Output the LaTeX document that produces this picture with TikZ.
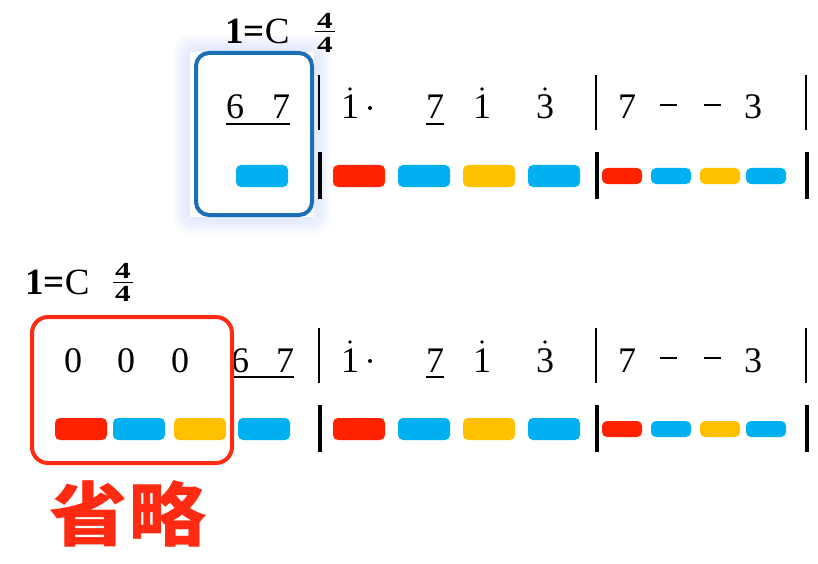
\documentclass[tikz,border=0pt]{standalone}
\usepackage{fontspec}
\setmainfont{Liberation Serif}
\newfontfamily\cjk{Noto Sans CJK SC}
\definecolor{pred}{HTML}{FF2200}
\definecolor{pblue}{HTML}{00B0F0}
\definecolor{pyellow}{HTML}{FFC000}
\definecolor{boxblue}{HTML}{1B6FB5}
\definecolor{boxred}{HTML}{FF2A12}
\definecolor{glow}{HTML}{C8D4FA}

\begin{document}
\begin{tikzpicture}[x=1pt,y=-1pt,
  num/.style={font=\fontsize{36}{36}\selectfont, inner sep=0, anchor=base},
  key/.style={font=\fontsize{37}{37}\selectfont, inner sep=0, anchor=base west},
  meter/.style={font=\bfseries\fontsize{23}{23}\selectfont, inner sep=0, xscale=1.35},
  pill/.style={fill=#1, rounded corners=5pt, minimum width=52pt, minimum height=22pt, inner sep=0},
  spill/.style={pill=#1, minimum width=40pt, minimum height=16pt},
  barline/.style={line width=1.6pt},
  thickbar/.style={line width=4.5pt},
  uline/.style={line width=1.3pt},
  ]

\useasboundingbox (0,0) rectangle (818,564);

% glow behind the first box
\foreach \g in {16,13,10,7,4}
  \fill[glow, opacity=.12, rounded corners=14pt] (190-\g,52-\g) rectangle (314+\g,217+\g);
\fill[white] (190,52) rectangle (314,217);

% key and meter
\node[key] (key1) at (225,44) {\textbf{1=}C};
\node[meter] (mtop1) at (325,21) {4};
\node[meter] (mbot1) at (325,45) {4};
\draw[line width=1pt] (315,32) -- (335,32);

\node[key] (key2) at (25,294) {\textbf{1=}C};
\node[meter] (mtop2) at (123,271) {4};
\node[meter] (mbot2) at (123,294) {4};
\draw[line width=1pt] (113,282) -- (133,282);

% the bars that both rows share
\foreach \r/\b/\p in {t/119/176, u/372/429} {
  \node[num] (\r i1) at (350,\b) {1};
  \fill ([yshift=6pt]\r i1.north) circle (1.8pt);
  \fill (370,\b-11) circle (2pt);
  \node[num] (\r s7) at (435,\b) {7};
  \draw[uline] ([yshift=-5pt]\r s7.base west) -- ([yshift=-5pt]\r s7.base east);
  \node[num] (\r i2) at (482,\b) {1};
  \fill ([yshift=6pt]\r i2.north) circle (1.8pt);
  \node[num] (\r h3) at (545,\b) {3};
  \fill ([yshift=6pt]\r h3.north) circle (1.8pt);

  \node[num] (\r l7) at (627,\b) {7};
  \draw[line width=2.4pt] (660,\b-14) -- (677,\b-14);
  \draw[line width=2.4pt] (704,\b-14) -- (721,\b-14);
  \node[num] (\r l3) at (753,\b) {3};

  \foreach \x in {319,596,806}
    \draw[barline] (\x,\b-44) -- (\x,\b+11);

  \node[pill=pred] (\r p1) at (359,\p) {};
  \node[pill=pblue] (\r p2) at (424,\p) {};
  \node[pill=pyellow] (\r p3) at (489,\p) {};
  \node[pill=pblue] (\r p4) at (554,\p) {};
  \node[spill=pred] (\r q1) at (622,\p) {};
  \node[spill=pblue] (\r q2) at (671,\p) {};
  \node[spill=pyellow] (\r q3) at (720,\p) {};
  \node[spill=pblue] (\r q4) at (766,\p) {};

  \foreach \x in {320,597,807}
    \draw[thickbar] (\x,\p-24) -- (\x,\p+23);
}

% upbeat, first line
\node[num] (t6) at (235,119) {6};
\node[num] (t7) at (281,119) {7};
\draw[uline] ([yshift=-5pt]t6.base west) -- ([yshift=-5pt]t7.base east);
\node[pill=pblue] (tp0) at (262,176) {};
\draw[boxblue, line width=4pt, rounded corners=13pt] (196,53) rectangle (312,215);

% upbeat with rests, second line
\node[num] (u01) at (73,372) {0};
\node[num] (u02) at (126,372) {0};
\node[num] (u03) at (180,372) {0};
\node[num] (u6) at (240,372) {6};
\node[num] (u7) at (285,372) {7};
\draw[uline] ([yshift=-5pt]u6.base west) -- ([yshift=-5pt]u7.base east);
\node[pill=pred] (ur1) at (81,429) {};
\node[pill=pblue] (ur2) at (139,429) {};
\node[pill=pyellow] (ur3) at (200,429) {};
\node[pill=pblue] (ur4) at (264,429) {};
\draw[boxred, line width=4pt, rounded corners=16pt] (32,317) rectangle (232,463);

\node[text=boxred, font=\cjk\bfseries\fontsize{70}{70}\selectfont, inner sep=0, xscale=1.12] (skip) at (128,514) {省略};

\end{tikzpicture}
\end{document}
